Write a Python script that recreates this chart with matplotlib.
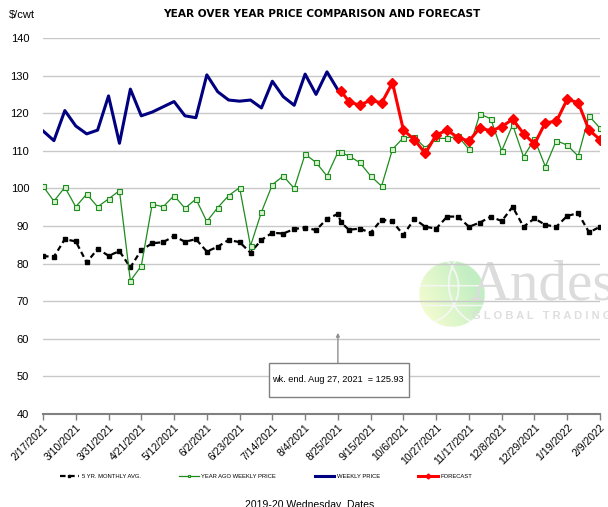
import numpy as np
import pandas as pd
import matplotlib
matplotlib.use("Agg")
import matplotlib.pyplot as plt
import matplotlib.dates as mdates
from matplotlib.patches import Rectangle

plt.rcParams['font.family'] = ['Liberation Sans', 'DejaVu Sans']

# ---------------- data ----------------
weeks = list(pd.date_range("2021-02-17", periods=52, freq="7D"))
extra_date = pd.Timestamp("2021-08-27")
all_dates = weeks[:28] + [extra_date] + weeks[28:]

five_yr_avg = [82.0, 81.8, 86.5, 85.9, 80.3, 83.9, 82.1, 83.3, 79.0, 83.6,
               85.4, 85.7, 87.3, 85.8, 86.5, 83.2, 84.5, 86.3, 85.7, 82.9,
               86.3, 88.2, 88.0, 89.2, 89.6, 88.9, 91.9, 93.2, 91.0, 89.0,
               89.3, 88.2, 91.7, 91.2, 87.6, 91.9, 89.8, 89.3, 92.5, 92.5,
               89.8, 90.9, 92.5, 91.3, 95.1, 89.8, 92.0, 90.3, 89.8, 92.7,
               93.4, 88.3, 89.8]

year_ago = [100.6, 96.6, 100.3, 95.1, 98.5, 95.1, 97.2, 99.4, 75.4, 79.4,
            95.8, 95.1, 98.1, 94.7, 97.2, 91.2, 94.9, 98.1, 100.2, 84.7,
            93.7, 101.0, 103.3, 100.0, 109.1, 106.9, 103.3, 109.6, 109.6, 108.6,
            106.9, 103.3, 100.6, 110.4, 113.5, 113.6, 110.8, 113.3, 113.3, 113.9,
            110.4, 119.8, 118.5, 110.0, 116.9, 108.4, 113.1, 105.8, 112.7, 111.5,
            108.6, 119.3, 116.0]

weekly_dates = weeks[:28]
weekly_price = [115.3, 112.7, 120.7, 116.6, 114.5, 115.5, 124.6, 112.0, 126.4, 119.3,
                120.3, 121.7, 123.1, 119.3, 118.8, 130.2, 125.7, 123.5, 123.2, 123.5,
                121.4, 128.5, 124.4, 122.1, 130.4, 125.0, 131.0, 126.2]

forecast_dates = [extra_date] + weeks[28:]
forecast = [125.93, 123.1, 122.1, 123.5, 122.7, 128.1, 115.5, 113.0, 109.3, 114.2,
            115.5, 113.5, 112.6, 116.1, 115.3, 116.4, 118.4, 114.6, 111.8, 117.5,
            117.8, 123.7, 122.8, 115.5, 113.0]

tick_dates = weeks[::3]
tick_labels = ["2/17/2021", "3/10/2021", "3/31/2021", "4/21/2021", "5/12/2021",
               "6/2/2021", "6/23/2021", "7/14/2021", "8/4/2021", "8/25/2021",
               "9/15/2021", "10/6/2021", "10/27/2021", "11/17/2021", "12/8/2021",
               "12/29/2021", "1/19/2022", "2/9/2022"]

# ---------------- figure ----------------
W, H = 608, 507
fig = plt.figure(figsize=(W / 100, H / 100), dpi=100)

# logo globe (behind plot)
lax = fig.add_axes([419 / W, 1 - 327 / H, 66 / W, 66 / H], zorder=0)
n = 200
yy, xx = np.mgrid[-1:1:n * 1j, -1:1:n * 1j]
rr = np.sqrt(xx ** 2 + yy ** 2)
t = np.clip((xx - 0.5 * yy + 1.2) / 2.0, 0, 1)
c1 = np.array([0.96, 0.99, 0.80])
c2 = np.array([0.74, 0.93, 0.74])
img = np.zeros((n, n, 4))
for k in range(3):
    img[..., k] = c1[k] * (1 - t) + c2[k] * t
mer = (np.abs(np.sqrt((xx + 0.9) ** 2 + (yy + 0.2) ** 2) - 1.1) < 0.025) | \
      (np.abs(np.sqrt((xx - 1.2) ** 2 + (yy + 0.3) ** 2) - 1.3) < 0.025) | \
      (np.abs(yy + 0.25) < 0.02) | (np.abs(yy - 0.35) < 0.02)
img[mer, :3] = 0.97
img[..., 3] = (rr <= 1).astype(float) * 0.9
lax.imshow(img, extent=(-1, 1, -1, 1), origin='upper')
lax.set_axis_off()
fig.text(470 / W, 1 - 299 / H, "Andes", fontsize=41, color="#dcdcdc",
         family=["Liberation Serif", "DejaVu Serif"], ha="left", va="baseline", zorder=0)
fig.text(472 / W, 1 - 316 / H, "G L O B A L   T R A D I N G", fontsize=8,
         color="#dedede", fontweight="bold", ha="left", va="center", zorder=0)

ax = fig.add_axes([43 / W, 1 - 414 / H, 557 / W, 376 / H], zorder=1)
ax.set_facecolor("none")

ax.plot(all_dates, five_yr_avg, color="black", lw=1.6, ls=(0, (2.5, 1.6)),
        marker="s", markersize=3.2, label="5 YR. MONTHLY AVG.", zorder=3)
ax.plot(all_dates, year_ago, color="#1e8c1e", lw=0.9, marker="s", markersize=3.6,
        markerfacecolor="#d8f2d0", markeredgecolor="#1e8c1e", markeredgewidth=0.8,
        label="YEAR AGO WEEKLY PRICE", zorder=4)
ax.plot(weekly_dates, weekly_price, color="#000080", lw=2.2,
        label="WEEKLY PRICE", zorder=5)
ax.plot(forecast_dates, forecast, color="#ff0000", lw=2.2, marker="D",
        markersize=4.6, label="FORECAST", zorder=6)

ax.set_ylim(40, 140)
ax.set_yticks(range(40, 141, 10))
ax.set_xlim(weeks[0], weeks[-1])
ax.set_xticks(tick_dates)
ax.set_xticklabels(tick_labels, rotation=45, ha="right", va="top",
                   rotation_mode="anchor", fontsize=7.5)
ax.tick_params(axis="x", length=4, width=1, color="#808080", pad=2)
ax.tick_params(axis="y", length=0, pad=10, labelsize=8)
ax.yaxis.grid(True, color="#c8c8c8", lw=1)
ax.set_axisbelow(True)
for s in ("top", "left", "right"):
    ax.spines[s].set_visible(False)
ax.spines["bottom"].set_color("#808080")
ax.spines["bottom"].set_linewidth(1.5)

# annotation
ann_date = weeks[27]
ax.annotate("", xy=(ann_date, 61.6), xytext=(ann_date, 53.6),
            arrowprops=dict(arrowstyle="-|>", color="#909090", lw=1,
                            mutation_scale=5, shrinkA=0, shrinkB=0), zorder=7)
x0 = mdates.date2num(weeks[0])
ax.add_patch(Rectangle((x0 + (269 - 43) / 1.5602, 140 - (397 - 38) / 3.76),
                       140 / 1.5602, 34 / 3.76, facecolor="white",
                       edgecolor="#808080", lw=1, zorder=7))
ax.text(mdates.date2num(ann_date), 140 - (380 - 38) / 3.76,
        "wk. end. Aug 27, 2021  = 125.93", ha="center", va="center",
        fontsize=6.6, zorder=8)

fig.text(9 / W, 1 - 15 / H, "$/cwt", fontsize=8, ha="left", va="center")
fig.text(322 / W, 1 - 14 / H, "YEAR OVER YEAR PRICE COMPARISON AND FORECAST",
         fontsize=7.6, fontweight="bold", ha="center", va="center",
         family=["DejaVu Sans"])

fig.legend(loc="center", bbox_to_anchor=(266 / W, 1 - 476 / H), ncol=4,
           frameon=False, fontsize=4.2, handlelength=3.4, handletextpad=0.4,
           columnspacing=6.6, markerscale=0.55)
fig.text(310 / W, 2 / H, "2019-20 Wednesday  Dates", fontsize=7.5,
         ha="center", va="center")

fig.savefig("out.png", dpi=100)
